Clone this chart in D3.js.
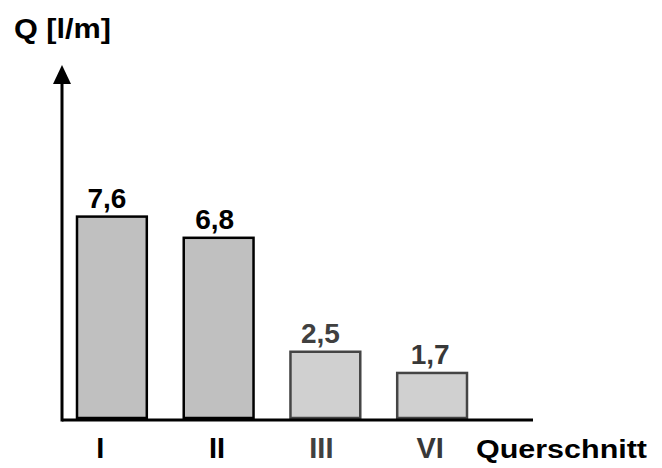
<!DOCTYPE html>
<html><head><meta charset="utf-8">
<script src="https://cdn.jsdelivr.net/npm/d3@7"></script>
<style>body{margin:0;background:#fff}svg{display:block}text{font-family:"Liberation Sans",Arial,sans-serif;font-weight:bold}</style>
</head><body>
<script>
const categories = ["I", "II", "III", "VI"];
const values = [7.6, 6.8, 2.5, 1.7];
const valueLabels = ["7,6", "6,8", "2,5", "1,7"];
const yTitle = "Q [l/m]";
const xTitle = "Querschnitt";

const W = 662, H = 468;
const svg = d3.select("body").append("svg").attr("width", W).attr("height", H);

const x = d3.scaleBand().domain(categories).range([77, 467]).paddingInner(0.346).paddingOuter(0);
const y = d3.scaleLinear().domain([0, 10]).range([418, 153]);

const fills = ["#c0c0c0", "#c0c0c0", "#d0d0d0", "#d0d0d0"];
const strokes = ["#000", "#000", "#454545", "#454545"];
const textCol = ["#000", "#000", "#404040", "#383838"];
const valDx = [-5, -4, -5, -2];
const catDx = [-11.5, -1.5, -4, -2];

svg.selectAll("rect.bar").data(values).join("rect")
  .attr("class", "bar")
  .attr("x", (d, i) => x(categories[i]))
  .attr("y", d => y(d))
  .attr("width", x.bandwidth())
  .attr("height", d => y(0) - y(d))
  .attr("fill", (d, i) => fills[i])
  .attr("stroke", (d, i) => strokes[i])
  .attr("stroke-width", 2.5);

svg.selectAll("text.val").data(values).join("text")
  .attr("class", "val")
  .attr("x", (d, i) => x(categories[i]) + x.bandwidth() / 2 + valDx[i])
  .attr("y", d => y(d) - 9)
  .attr("text-anchor", "middle")
  .attr("font-size", 28)
  .attr("fill", (d, i) => textCol[i])
  .text((d, i) => valueLabels[i]);

svg.selectAll("text.cat").data(categories).join("text")
  .attr("class", "cat")
  .attr("x", (d, i) => x(d) + x.bandwidth() / 2 + catDx[i])
  .attr("y", 458)
  .attr("text-anchor", "middle")
  .attr("font-size", 29)
  .attr("fill", (d, i) => textCol[i])
  .text(d => d);

// axes
svg.append("line").attr("x1", 62).attr("x2", 533).attr("y1", 420).attr("y2", 420)
  .attr("stroke", "#000").attr("stroke-width", 3);
svg.append("line").attr("x1", 62).attr("x2", 62).attr("y1", 421.5).attr("y2", 80)
  .attr("stroke", "#000").attr("stroke-width", 3);
svg.append("path").attr("d", "M62,65 L53,84 L71,84 Z").attr("fill", "#000");

svg.append("text").attr("x", 14).attr("y", 38).attr("font-size", 27)
  .attr("textLength", 97).attr("lengthAdjust", "spacingAndGlyphs").attr("fill", "#000").text(yTitle);
svg.append("text").attr("x", 476).attr("y", 458).attr("font-size", 25)
  .attr("textLength", 171).attr("lengthAdjust", "spacingAndGlyphs").attr("fill", "#000").text(xTitle);
</script>
</body></html>
